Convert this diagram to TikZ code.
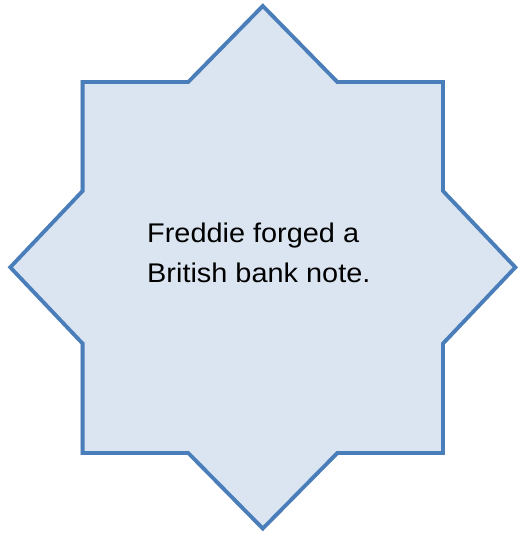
\documentclass[tikz,border=0pt]{standalone}
\usepackage{fontspec}
\newfontfamily\starfont[FakeStretch=1.07]{Liberation Sans}
\definecolor{starline}{HTML}{4A7EBB}
\definecolor{starfill}{HTML}{DBE5F1}
\definecolor{starshadow}{HTML}{CFCFCF}
\tikzset{
  starshape/.style={draw=starline, fill=starfill, line width=3.8pt, line join=miter, miter limit=10},
  shadowshape/.style={draw=starshadow, fill=starshadow, line width=3.8pt, line join=miter, miter limit=10},
  startext/.style={inner sep=0pt, anchor=base west, font=\starfont\fontsize{27}{40}\selectfont, text=black}
}
\begin{document}
\begin{tikzpicture}[x=1pt,y=-1pt]
\useasboundingbox (0,0) rectangle (517,534);
\coordinate (t)   at (262.8,6);
\coordinate (tr1) at (337.3,82);
\coordinate (tr)  at (443,82);
\coordinate (rt1) at (443,191);
\coordinate (r)   at (515.3,267.3);
\coordinate (rb1) at (443,343.5);
\coordinate (br)  at (443,453);
\coordinate (br1) at (337.3,453);
\coordinate (b)   at (262.8,528.5);
\coordinate (bl1) at (188.3,453);
\coordinate (bl)  at (82.6,453);
\coordinate (lb1) at (82.6,343.5);
\coordinate (l)   at (10.3,267.3);
\coordinate (lt1) at (82.6,191);
\coordinate (tl)  at (82.6,82);
\coordinate (tl1) at (188.3,82);
\begin{scope}[shift={(-1,4)}]
\draw[shadowshape] (t) -- (tr1) -- (tr) -- (rt1) -- (r) -- (rb1) -- (br) -- (br1) -- (b) -- (bl1) -- (bl) -- (lb1) -- (l) -- (lt1) -- (tl) -- (tl1) -- cycle;
\end{scope}
\draw[starshape] (t) -- (tr1) -- (tr) -- (rt1) -- (r) -- (rb1) -- (br) -- (br1) -- (b) -- (bl1) -- (bl) -- (lb1) -- (l) -- (lt1) -- (tl) -- (tl1) -- cycle;
\node[startext] (line1) at (147,242) {Freddie forged a};
\node[startext] (line2) at (147,282) {British bank note.};
\end{tikzpicture}
\end{document}
